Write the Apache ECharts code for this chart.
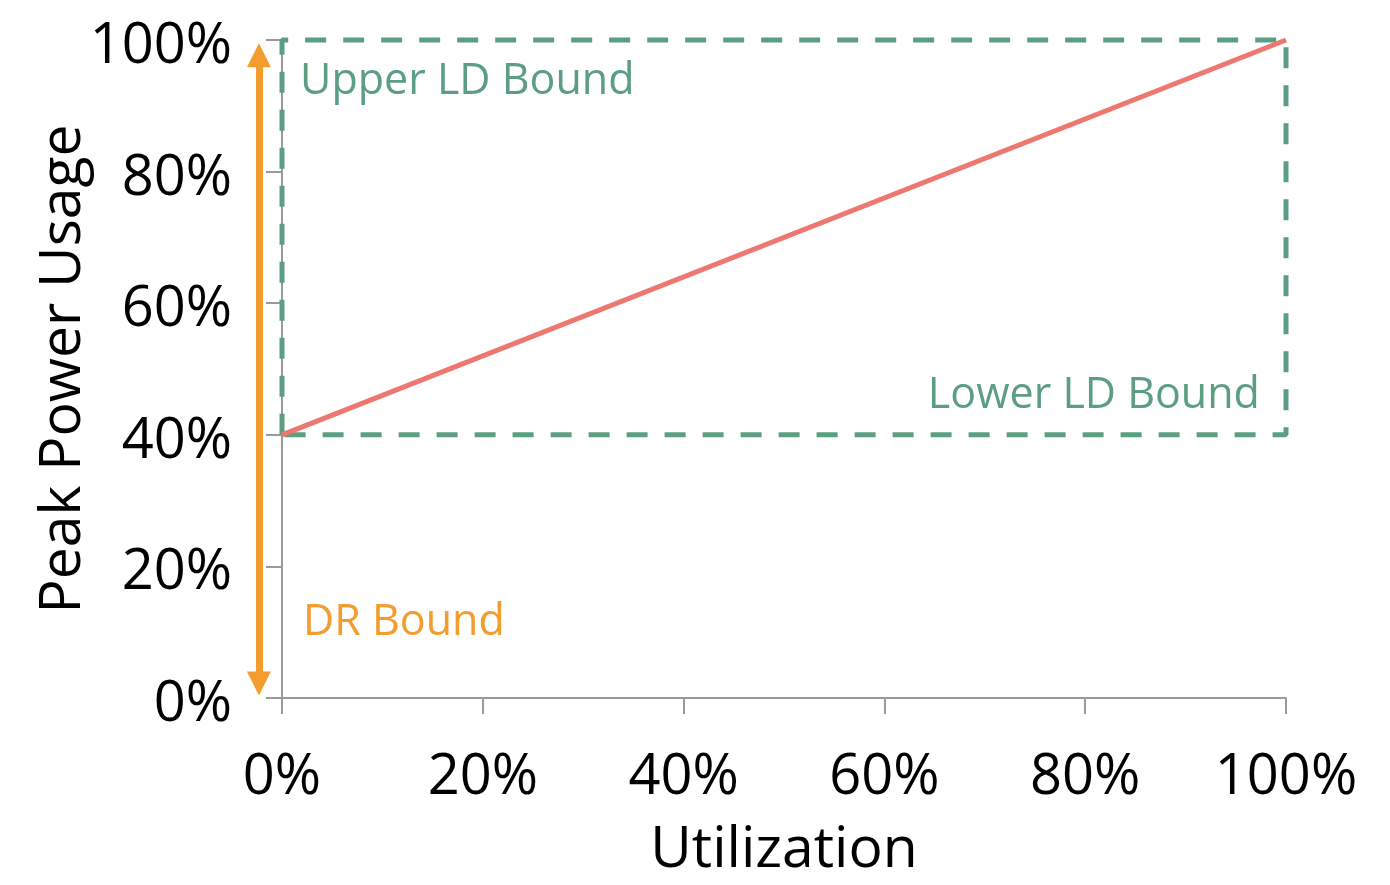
<!DOCTYPE html>
<html>
<head>
<meta charset="utf-8">
<script src="https://cdn.jsdelivr.net/npm/echarts@6/dist/echarts.min.js"></script>
<style>
html,body{margin:0;padding:0;background:#fff;}
#chart{width:1390px;height:885px;}
</style>
</head>
<body>
<div id="chart"></div>
<script>
// ---- data ----
const xTickValues = [0, 20, 40, 60, 80, 100];
const yTickValues = [0, 20, 40, 60, 80, 100];
const utilization = [0, 100];
const peakPower = [40, 100];
const ldBoundX = [0, 0, 100, 100, 0];
const ldBoundY = [40, 100, 100, 40, 40];
const drBoundX = [-2.3, -2.3];
const drBoundY = [2.2, 97.7];
const annotationNames = ['Upper LD Bound', 'Lower LD Bound', 'DR Bound'];
const annotationX = [1.8, 97.4, 2.1];
const annotationY = [93.6, 46.0, 11.5];

const FONT = '"Open Sans", "Noto Sans", sans-serif';
const GREEN = '#5c9e81';
const RED = '#ec7870';
const ORANGE = '#f39d2f';
const AXIS = '#9a9a9a';

const chart = echarts.init(document.getElementById('chart'), null, {renderer: 'canvas'});

const annotationColors = [GREEN, GREEN, ORANGE];
const annotationPos = ['right', 'left', 'right'];

const option = {
  backgroundColor: '#fff',
  animation: false,
  grid: {left: 282, right: 104, top: 40, bottom: 187, containLabel: false},
  xAxis: {
    type: 'value', min: 0, max: 100, interval: 20,
    name: 'Utilization', nameLocation: 'middle', nameGap: 124,
    nameTextStyle: {fontFamily: FONT, fontSize: 57, color: '#000'},
    axisLine: {show: true, lineStyle: {color: AXIS, width: 2}},
    axisTick: {show: true, length: 16, lineStyle: {color: AXIS, width: 2}},
    axisLabel: {formatter: v => xTickValues.includes(v) ? v + '%' : '', fontFamily: FONT, fontSize: 56, color: '#000', margin: 52},
    splitLine: {show: false}
  },
  yAxis: {
    type: 'value', min: 0, max: 100, interval: 20,
    name: 'Peak Power Usage', nameLocation: 'middle', nameGap: 190, nameRotate: 90,
    nameMoveOverlap: false,
    nameTextStyle: {fontFamily: FONT, fontSize: 57, color: '#000'},
    axisLine: {show: true, lineStyle: {color: AXIS, width: 2}},
    axisTick: {show: true, length: 16, lineStyle: {color: AXIS, width: 2}},
    axisLabel: {formatter: v => yTickValues.includes(v) ? v + '%' : '', fontFamily: FONT, fontSize: 56, color: '#000', margin: 50, verticalAlign: 'top', lineHeight: 14},
    splitLine: {show: false}
  },
  series: [
    {
      type: 'line', name: 'LD Bound', clip: false, symbol: 'none',
      data: ldBoundX.map((x, i) => [x, ldBoundY[i]]),
      lineStyle: {color: GREEN, width: 5, type: [21, 17]},
      z: 2
    },
    {
      type: 'line', name: 'Peak Power', clip: false, symbol: 'none',
      data: utilization.map((x, i) => [x, peakPower[i]]),
      lineStyle: {color: RED, width: 5},
      z: 3
    },
    {
      type: 'lines', name: 'DR Bound', coordinateSystem: 'cartesian2d', clip: false,
      symbol: ['triangle', 'triangle'], symbolSize: [24, 24],
      lineStyle: {color: ORANGE, width: 7, opacity: 1},
      itemStyle: {color: ORANGE},
      data: [{coords: drBoundX.map((x, i) => [x, drBoundY[i]])}],
      z: 3
    },
    {
      type: 'scatter', clip: false, symbolSize: 0,
      itemStyle: {opacity: 1},
      data: annotationNames.map((n, i) => ({
        name: n, value: [annotationX[i], annotationY[i]],
        itemStyle: {opacity: 1},
        label: {show: true, position: annotationPos[i], distance: 0, formatter: n,
          color: annotationColors[i], opacity: 1, fontFamily: FONT, fontSize: 43}
      })),
      z: 4
    }
  ]
};
chart.setOption(option);
</script>
</body>
</html>
